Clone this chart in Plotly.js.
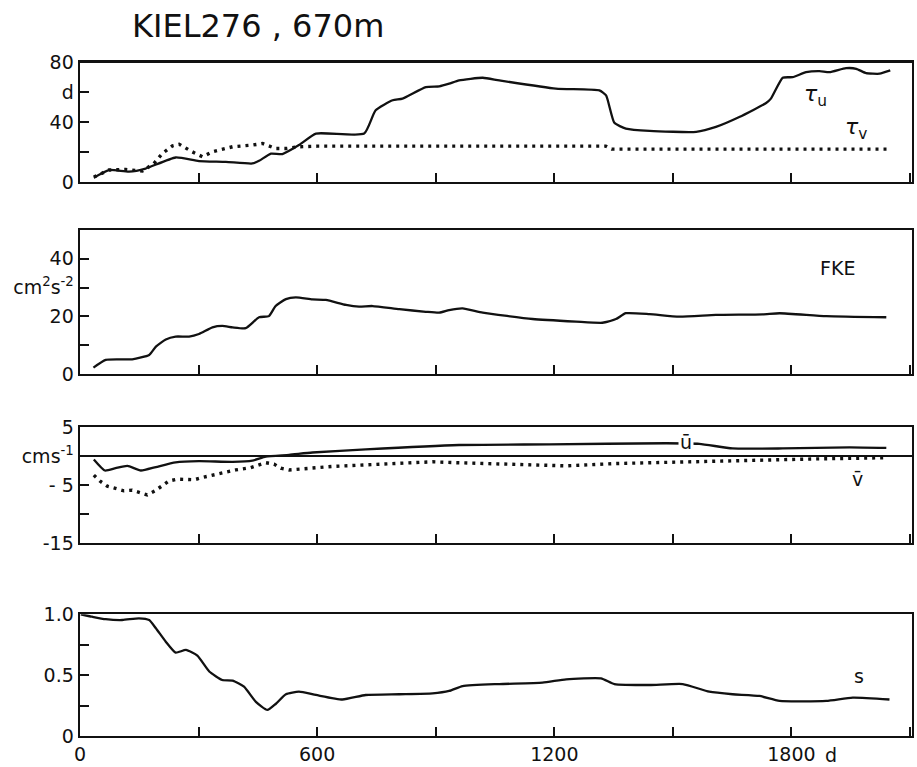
<!DOCTYPE html>
<html>
<head>
<meta charset="utf-8">
<script src="https://cdn.plot.ly/plotly-3.0.1.min.js"></script>
<style>
  html, body { margin: 0; padding: 0; background: #fff; }
  #chart { width: 917px; height: 767px; }
</style>
</head>
<body>
<div id="chart"></div>
<script>
// Time axis: labelled ticks every 600 d, plain ticks every 300 d
const dayTicks = [0, 600, 1200, 1800];
const dayTickText = ['0', '600', '1200', '1800'];

// Integral time scales tau_u, tau_v (d)
const tauUDays = [35, 73, 124, 166, 242, 301, 369, 436, 453, 483, 512, 554, 597, 719, 748, 791, 816, 875, 909, 934, 959, 1019, 1061, 1204, 1314, 1331, 1352, 1381, 1441, 1559, 1609, 1668, 1736, 1748, 1778, 1803, 1837, 1871, 1896, 1938, 1964, 1989, 2023, 2050];
const tauU = [2.9, 8, 6.9, 9, 16.4, 14, 13.5, 12.4, 14.2, 19, 18.7, 24.7, 32.4, 32.4, 48, 54.7, 55.8, 63.5, 64, 65.8, 68, 69.8, 68, 62.5, 61.3, 58, 39.6, 35.8, 34.2, 33.6, 36.9, 43.5, 52.9, 55.8, 69.8, 70.2, 73.5, 74.2, 73.5, 76.2, 75.8, 72.9, 72.5, 74.7];
const tauVDays = [35, 73, 116, 158, 187, 208, 234, 251, 284, 310, 335, 386, 436, 462, 495, 521, 554, 600, 900, 1200, 1330, 1345, 1500, 1800, 2050];
const tauV = [3.3, 8, 8.4, 7.3, 12.4, 19, 24.2, 25.3, 20.2, 16.9, 20.2, 23.6, 24.7, 25.8, 22.4, 22.4, 23.6, 24, 24, 24, 24, 22, 22, 22, 22];

// Fluctuating kinetic energy (cm^2 s^-2)
const fkeDays = [34, 65, 132, 175, 192, 217, 242, 276, 301, 335, 360, 386, 419, 453, 478, 495, 521, 546, 588, 622, 673, 706, 740, 808, 875, 909, 934, 968, 1019, 1145, 1255, 1322, 1356, 1381, 1441, 1516, 1609, 1727, 1770, 1888, 2040];
const fke = [2.2, 4.9, 5.1, 6.6, 9.5, 12.0, 13.0, 13.0, 13.9, 16.2, 16.7, 16.2, 15.9, 19.7, 20.1, 23.6, 26.0, 26.6, 25.9, 25.7, 24.0, 23.4, 23.6, 22.5, 21.6, 21.3, 22.2, 22.8, 21.3, 19.1, 18.2, 17.8, 19.1, 21.1, 20.8, 19.9, 20.5, 20.7, 21.1, 20.1, 19.7];

// Mean velocity components (cm s^-1)
const uDays = [35, 63, 90, 120, 154, 192, 242, 301, 386, 436, 470, 529, 588, 723, 959, 1187, 1483, 1567, 1651, 1778, 1947, 2040];
const uMean = [-0.6, -2.5, -2.1, -1.7, -2.5, -1.9, -1.1, -0.9, -1.0, -0.8, -0.1, 0.2, 0.6, 1.15, 1.9, 2.0, 2.2, 2.1, 1.3, 1.3, 1.5, 1.4];
const vDays = [35, 52, 69, 90, 111, 132, 154, 170, 190, 208, 225, 246, 289, 310, 352, 394, 432, 453, 470, 491, 508, 529, 571, 639, 765, 892, 951, 1103, 1230, 1356, 1525, 1694, 1862, 2040];
const vMean = [-3.3, -4.4, -5.2, -5.6, -6.0, -5.9, -6.3, -6.7, -6.0, -5.2, -4.3, -4.0, -4.1, -3.7, -3.0, -2.4, -2.0, -1.6, -1.15, -1.4, -2.1, -2.4, -2.2, -1.8, -1.4, -1.0, -1.15, -1.4, -1.7, -1.3, -1.0, -0.7, -0.5, -0.3];

// Stability s
const sDays = [2, 31, 65, 107, 149, 175, 192, 217, 242, 268, 297, 327, 360, 386, 415, 445, 474, 495, 521, 554, 597, 664, 723, 808, 892, 934, 968, 1061, 1170, 1230, 1318, 1352, 1441, 1525, 1592, 1651, 1719, 1770, 1888, 1955, 2048];
const sVal = [1.0, 0.98, 0.96, 0.953, 0.967, 0.953, 0.885, 0.775, 0.685, 0.707, 0.66, 0.53, 0.46, 0.455, 0.405, 0.28, 0.214, 0.263, 0.343, 0.364, 0.337, 0.3, 0.337, 0.343, 0.35, 0.37, 0.41, 0.427, 0.438, 0.466, 0.474, 0.427, 0.419, 0.427, 0.364, 0.343, 0.329, 0.288, 0.288, 0.315, 0.3];

const INK = '#111';
const FONT = 'DejaVu Sans, Arial, sans-serif';
const solid = { color: INK, width: 2.3, shape: 'spline', smoothing: 0.5 };
const dotted = { color: INK, width: 3.4, dash: '3px,5px' };

const traces = [
  { x: tauUDays, y: tauU, xaxis: 'x', yaxis: 'y', mode: 'lines', line: solid },
  { x: tauVDays, y: tauV, xaxis: 'x', yaxis: 'y', mode: 'lines', line: dotted },
  { x: fkeDays, y: fke, xaxis: 'x2', yaxis: 'y2', mode: 'lines', line: solid },
  { x: uDays, y: uMean, xaxis: 'x3', yaxis: 'y3', mode: 'lines', line: solid },
  { x: vDays, y: vMean, xaxis: 'x3', yaxis: 'y3', mode: 'lines', line: dotted },
  { x: sDays, y: sVal, xaxis: 'x4', yaxis: 'y4', mode: 'lines', line: solid }
];

const tickStyle = { ticks: 'inside', ticklen: 9, tickwidth: 2, tickcolor: INK };

function xAxis(anchor, labels) {
  return Object.assign({
    anchor: anchor, range: [0, 2105], domain: [0, 1],
    tickmode: 'array', tickvals: dayTicks, ticktext: dayTickText,
    showticklabels: labels,
    minor: Object.assign({ tick0: 0, dtick: 300, showgrid: false }, tickStyle),
    showline: true, mirror: true, linecolor: INK, linewidth: 2.4,
    showgrid: false, zeroline: false, fixedrange: true,
    tickfont: { family: FONT, size: 19, color: INK }
  }, tickStyle);
}
function yAxis(anchor, domain, range, vals, text, minorStep) {
  return Object.assign({
    anchor: anchor, domain: domain, range: range,
    tickmode: 'array', tickvals: vals, ticktext: text,
    minor: Object.assign({ tick0: 0, dtick: minorStep, showgrid: false }, tickStyle),
    showline: true, mirror: true, linecolor: INK, linewidth: 2.4,
    showgrid: false, zeroline: false, fixedrange: true,
    tickfont: { family: FONT, size: 19, color: INK }
  }, tickStyle);
}

const H = 767;
const dom = (top, bottom) => [1 - bottom / H, 1 - top / H];

const y3 = yAxis('x3', dom(427, 543), [-15, 5], [5, 0, -5, -15], ['5', 'cms<sup>-1</sup>', '- 5', '-15'], 5);
y3.zeroline = true; y3.zerolinecolor = INK; y3.zerolinewidth = 1.5;

const label = (text, xref, yref, x, y, extra) => Object.assign({
  text: text, xref: xref, yref: yref, x: x, y: y, showarrow: false,
  font: { family: FONT, size: 19, color: INK }
}, extra || {});

const layout = {
  width: 917, height: 767,
  margin: { l: 80, r: 5, t: 0, b: 0 },
  paper_bgcolor: '#fff', plot_bgcolor: '#fff',
  showlegend: false,
  xaxis: xAxis('y', false),
  xaxis2: xAxis('y2', false),
  xaxis3: xAxis('y3', false),
  xaxis4: xAxis('y4', true),
  yaxis: yAxis('x', dom(62.5, 182), [0, 80], [0, 40, 60, 80], ['0', '40', 'd', '80'], 20),
  yaxis2: yAxis('x2', dom(230, 374), [0, 50], [0, 20, 30, 40], ['0', '20', 'cm<sup>2</sup>s<sup>-2</sup>', '40'], 10),
  yaxis3: y3,
  yaxis4: yAxis('x4', dom(614.3, 736), [0, 1], [0, 0.5, 1], ['0', '0.5', '1.0'], 0.25),
  annotations: [
    label('KIEL276 , 670m', 'paper', 'paper', 50 / 832, 1 - 26 / H, { xanchor: 'left', yanchor: 'middle', font: { family: FONT, size: 32, color: INK } }),
    label('<i>τ</i><sub>u</sub>', 'x', 'y', 1862, 58, { font: { family: FONT, size: 22, color: INK } }),
    label('<i>τ</i><sub>v</sub>', 'x', 'y', 1963, 36, { font: { family: FONT, size: 22, color: INK } }),
    label('FKE', 'x2', 'y2', 1916, 36.8),
    label('ū', 'x3', 'y3', 1532, 2.4, { bgcolor: '#fff', borderpad: 1 }),
    label('v̄', 'x3', 'y3', 1967, -4.0),
    label('s', 'x4', 'y4', 1970, 0.49),
    label('d', 'x4', 'paper', 1901, 1 - 755 / H, { yanchor: 'middle' })
  ]
};

Plotly.newPlot('chart', traces, layout, { staticPlot: true, displayModeBar: false });
</script>
</body>
</html>
